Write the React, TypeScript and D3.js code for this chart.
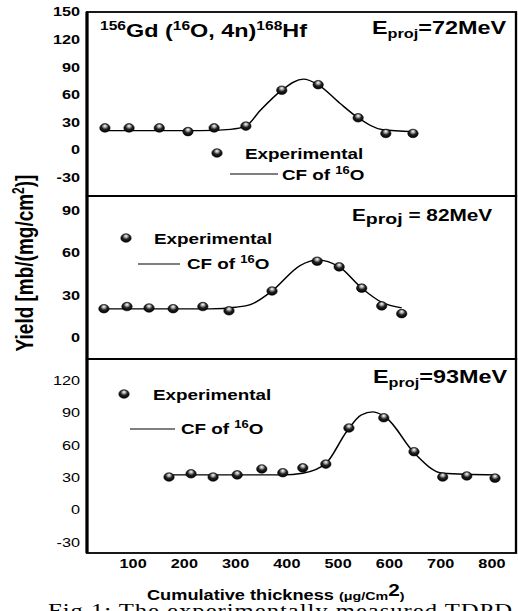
import * as d3 from "d3";

// thickness (ug/cm2) and yield (mb/(mg/cm2))
const thick72 = [45, 92, 151, 207, 258, 320, 390, 461, 539, 593, 646];
const yield72 = [24, 24, 24, 20, 24, 26, 65, 71, 35, 18, 18];
const fitX72 = [45, 230, 290, 320, 348, 390, 432, 461, 503, 539, 587, 646];
const fitY72 = [21, 21, 22.5, 26, 43, 65, 77, 71, 51, 35, 22, 20];

const thick82 = [43, 88, 131, 178, 236, 287, 371, 459, 502, 546, 585, 624];
const yield82 = [20.5, 22, 21, 20.5, 22, 19, 33, 54, 50, 35, 22.5, 17];
const fitX82 = [43, 250, 300, 330, 371, 426, 459, 502, 546, 585, 624];
const fitY82 = [20.4, 20.4, 21.5, 23.5, 33, 51, 55, 50, 35, 25, 21];

const thick93 = [170, 213, 256, 303, 351, 392, 431, 476, 521, 589, 648, 704, 751, 806];
const yield93 = [30.5, 33.5, 30.5, 32.5, 38, 34.5, 39, 42.5, 76, 85.5, 54, 30.5, 31.5, 29.5];
const fitX93 = [170, 392, 431, 476, 517, 545, 568, 595, 648, 704, 806];
const fitY93 = [32.5, 32.5, 34, 43, 73, 88, 91, 85, 53, 34, 32.5];

const xTicks = [100, 200, 300, 400, 500, 600, 700, 800];
const yTicks72 = [-30, 0, 30, 60, 90, 120, 150];
const yTicks82 = [0, 30, 60, 90];
const yTicks93 = [-30, 0, 30, 60, 90, 120];

// the whole figure is stretched horizontally
const SX = 1.3;
const sx = (v: number) => v / SX;
const FONT = "'Liberation Sans', Arial, sans-serif";

const x = d3.scaleLinear().domain([10, 847]).range([sx(87), sx(516)]);

const panels = [
  { id: "p72", dom: [-50, 150], top: 12, bottom: 196, ticks: yTicks72, bold: true,
    tx: thick72, ty: yield72, fx: fitX72, fy: fitY72,
    leg: { mx: 217, my: 153, ex: 245, ey: 159, l1: 230, l2: 278, ly: 174, cx: 282, cy: 180 } },
  { id: "p82", dom: [-15, 100], top: 196, bottom: 359, ticks: yTicks82, bold: true,
    tx: thick82, ty: yield82, fx: fitX82, fy: fitY82,
    leg: { mx: 126, my: 238, ex: 154, ey: 244, l1: 138, l2: 180, ly: 264, cx: 187, cy: 269 } },
  { id: "p93", dom: [-40, 140], top: 359, bottom: 553, ticks: yTicks93, bold: false,
    tx: thick93, ty: yield93, fx: fitX93, fy: fitY93,
    leg: { mx: 124, my: 394, ex: 153, ey: 400, l1: 130, l2: 175, ly: 429, cx: 181, cy: 434 } },
];

function Ball({ cx, cy }: { cx: number; cy: number }) {
  return <ellipse cx={cx} cy={cy} rx={sx(5.2)} ry={4.3} fill="url(#ball)" stroke="#000" strokeWidth={0.5} />;
}

export default function App() {
  const left = sx(87);
  const right = sx(516);
  return (
    <svg width={518} height={611} style={{ position: "absolute", left: 0, top: 0, background: "#fff" }}>
      <defs>
        <radialGradient id="ball" cx="50%" cy="40%" r="60%" fx="50%" fy="25%">
          <stop offset="0%" stopColor="#fff" />
          <stop offset="25%" stopColor="#aaa" />
          <stop offset="55%" stopColor="#222" />
          <stop offset="100%" stopColor="#000" />
        </radialGradient>
      </defs>
      <rect width={518} height={611} fill="#fff" />
      <g transform={`scale(${SX},1)`} fontFamily={FONT}>
        {panels.map((p) => {
          const y = d3.scaleLinear().domain(p.dom).range([p.bottom, p.top]);
          const line = d3
            .line<number>()
            .x((d) => x(d))
            .y((_, i) => y(p.fy[i]))
            .curve(d3.curveMonotoneX);
          const L = p.leg;
          return (
            <g key={p.id}>
              <rect x={left} y={p.top} width={right - left} height={p.bottom - p.top} fill="none" stroke="#000" strokeWidth={1.8} />
              {p.ticks.map((t) => (
                <text key={t} x={sx(80)} y={y(t)} dy="0.35em" textAnchor="end" fontSize={12.5} fontWeight={p.bold ? "bold" : "normal"}>
                  {t}
                </text>
              ))}
              <path d={line(p.fx) || ""} fill="none" stroke="#000" strokeWidth={1.3} />
              {p.tx.map((t, i) => (
                <Ball key={i} cx={x(t)} cy={y(p.ty[i])} />
              ))}
              <Ball cx={sx(L.mx)} cy={L.my} />
              <text x={sx(L.ex)} y={L.ey} fontSize={14.5} fontWeight="bold">Experimental</text>
              <line x1={sx(L.l1)} x2={sx(L.l2)} y1={L.ly} y2={L.ly} stroke="#000" strokeWidth={1.2} />
              <text x={sx(L.cx)} y={L.cy} fontSize={14.5} fontWeight="bold">
                CF of <tspan fontSize={10} dy={-6}>16</tspan><tspan dy={6}>O</tspan>
              </text>
            </g>
          );
        })}
        <line x1={left} x2={left} y1={12} y2={553} stroke="#000" strokeWidth={2.4} />

        <text x={sx(100)} y={37} fontSize={18} fontWeight="bold">
          <tspan fontSize={12} dy={-7}>156</tspan><tspan dy={7}>Gd (</tspan>
          <tspan fontSize={12} dy={-7}>16</tspan><tspan dy={7}>O, 4n)</tspan>
          <tspan fontSize={12} dy={-7}>168</tspan><tspan dy={7}>Hf</tspan>
        </text>
        <text x={sx(372)} y={34} fontSize={18} fontWeight="bold">
          E<tspan fontSize={12.5} dy={4}>proj</tspan><tspan dy={-4}>=72MeV</tspan>
        </text>
        <text x={sx(352)} y={221} fontSize={16} fontWeight="bold">
          E<tspan fontSize={15} dy={3}>proj</tspan><tspan dy={-3}> = 82MeV</tspan>
        </text>
        <text x={sx(373)} y={383} fontSize={18} fontWeight="bold">
          E<tspan fontSize={12.5} dy={4}>proj</tspan><tspan dy={-4}>=93MeV</tspan>
        </text>

        {xTicks.map((t) => (
          <text key={t} x={x(t)} y={568} textAnchor="middle" fontSize={12.5} fontWeight="bold">{t}</text>
        ))}

        <text x={sx(147)} y={600} fontSize={14} fontWeight="bold">
          Cumulative thickness <tspan fontSize={11}>(μg/Cm</tspan>
          <tspan fontSize={16} dy={-4}>2</tspan><tspan fontSize={11} dy={4}>)</tspan>
        </text>

        <text transform={`translate(${sx(33)},263) rotate(-90)`} textAnchor="middle" fontSize={19} fontWeight="bold">
          Yield [mb/(mg/cm<tspan fontSize={12} dy={-7}>2</tspan><tspan dy={7}>)]</tspan>
        </text>

        <text x={sx(48)} y={617} fontSize={19} fontFamily="'Liberation Serif', 'Times New Roman', serif" textLength={sx(464)} lengthAdjust="spacing">
          Fig.1: The experimentally measured TDPD
        </text>
      </g>
    </svg>
  );
}
